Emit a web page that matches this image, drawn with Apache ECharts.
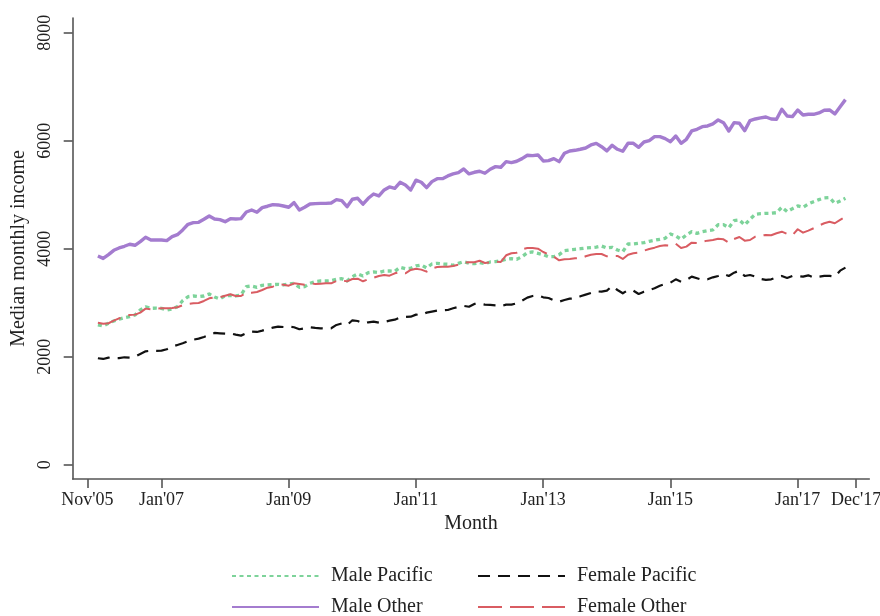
<!DOCTYPE html>
<html>
<head>
<meta charset="utf-8">
<script src="https://cdn.jsdelivr.net/npm/echarts@6/dist/echarts.min.js"></script>
<style>
  html, body { margin: 0; padding: 0; background: #fff; }
  #chart { width: 880px; height: 616px; }
</style>
</head>
<body>
<div id="chart"></div>
<script>
// months counted from Jan 2006 (index 0) to Oct 2017 (index 141)
const tickMonths = [-2, 12, 36, 60, 84, 108, 132, 143];
const tickLabels = ["Nov'05", "Jan'07", "Jan'09", "Jan'11", "Jan'13", "Jan'15", "Jan'17", "Dec'17"];
const yTicks = [0, 2000, 4000, 6000, 8000];

const malePacific = [
  2587, 2568, 2619, 2661, 2693, 2723, 2741, 2772, 2865, 2921, 2896, 2900, 2896, 2865, 2884, 2926, 3037, 3111, 3124, 3111, 3124, 3161, 3105,
  3069, 3130, 3136, 3124, 3143, 3297, 3309, 3285, 3322, 3328, 3334, 3340, 3328, 3347, 3359, 3285, 3297, 3359, 3389, 3402, 3402, 3408, 3433, 3445,
  3402, 3482, 3532, 3495, 3556, 3569, 3556, 3587, 3587, 3581, 3656, 3630, 3637, 3680, 3698, 3643, 3717, 3729, 3717, 3711, 3692, 3729, 3760, 3730,
  3722, 3741, 3722, 3754, 3760, 3778, 3803, 3815, 3803, 3852, 3926, 3939, 3915, 3889, 3852, 3852, 3889, 3963, 3976, 3989, 4000, 4013, 4019, 4030,
  4050, 4013, 4026, 3976, 3945, 4087, 4087, 4100, 4112, 4137, 4156, 4174, 4193, 4273, 4236, 4174, 4254, 4315, 4285, 4315, 4334, 4347, 4445,
  4445, 4389, 4519, 4532, 4439, 4545, 4637, 4649, 4655, 4655, 4667, 4767, 4686, 4741, 4791, 4767, 4828, 4871, 4908, 4939, 4945, 4841, 4884, 4934
];
const femalePacific = [
  1971, 1958, 1982, 1975, 1975, 1989, 1982, 2001, 2050, 2100, 2112, 2106, 2112, 2137, 2186, 2217, 2248, 2285, 2316, 2334, 2365, 2402, 2440,
  2433, 2427, 2433, 2408, 2390, 2433, 2464, 2458, 2483, 2513, 2538, 2557, 2550, 2557, 2545, 2508, 2526, 2545, 2532, 2526, 2520, 2526, 2588, 2615,
  2587, 2674, 2661, 2619, 2637, 2649, 2630, 2643, 2667, 2686, 2729, 2735, 2741, 2779, 2772, 2816, 2834, 2853, 2859, 2865, 2896, 2921, 2940, 2925,
  2977, 2983, 2964, 2958, 2952, 2933, 2964, 2964, 2989, 3037, 3093, 3124, 3137, 3100, 3087, 3044, 3019, 3050, 3074, 3080, 3118, 3149, 3180, 3210,
  3204, 3223, 3309, 3235, 3174, 3235, 3223, 3161, 3204, 3235, 3267, 3315, 3347, 3371, 3433, 3389, 3421, 3482, 3452, 3421, 3433, 3470, 3495,
  3532, 3495, 3556, 3593, 3495, 3513, 3482, 3439, 3421, 3433, 3470, 3495, 3458, 3495, 3495, 3482, 3507, 3464, 3482, 3495, 3495, 3482, 3593, 3649
];
const maleOther = [
  3865, 3820, 3890, 3970, 4013, 4045, 4082, 4063, 4130, 4211, 4161, 4161, 4161, 4149, 4223, 4260, 4347, 4452, 4482, 4488, 4545, 4606, 4550,
  4538, 4500, 4556, 4550, 4556, 4680, 4717, 4674, 4760, 4786, 4816, 4810, 4791, 4767, 4853, 4717, 4767, 4828, 4834, 4840, 4840, 4847, 4908, 4890,
  4778, 4915, 4934, 4823, 4934, 5013, 4977, 5087, 5143, 5118, 5230, 5180, 5087, 5269, 5230, 5131, 5242, 5297, 5297, 5347, 5384, 5408, 5476, 5385,
  5415, 5434, 5397, 5471, 5520, 5508, 5612, 5594, 5619, 5668, 5730, 5724, 5736, 5625, 5631, 5668, 5612, 5767, 5810, 5822, 5841, 5865, 5921, 5950,
  5889, 5810, 5915, 5841, 5804, 5952, 5952, 5878, 5976, 6000, 6075, 6075, 6038, 5982, 6087, 5952, 6026, 6180, 6211, 6260, 6273, 6310, 6384,
  6334, 6180, 6334, 6322, 6186, 6371, 6402, 6421, 6439, 6402, 6396, 6582, 6458, 6445, 6569, 6476, 6489, 6489, 6514, 6563, 6569, 6495, 6630, 6760
];
const femaleOther = [
  2630, 2611, 2619, 2667, 2711, 2741, 2772, 2779, 2816, 2890, 2878, 2890, 2896, 2896, 2900, 2915, 2952, 2977, 2989, 2995, 3032, 3081, 3100,
  3100, 3130, 3155, 3124, 3124, 3186, 3186, 3199, 3235, 3278, 3297, 3340, 3334, 3315, 3359, 3347, 3334, 3359, 3347, 3353, 3359, 3359, 3402, 3410,
  3396, 3439, 3445, 3396, 3433, 3463, 3495, 3513, 3500, 3544, 3569, 3544, 3606, 3630, 3612, 3575, 3637, 3661, 3667, 3667, 3680, 3704, 3741, 3748,
  3748, 3778, 3735, 3748, 3760, 3754, 3878, 3915, 3926, 3989, 4013, 4013, 4000, 3939, 3896, 3852, 3785, 3803, 3810, 3822, 3822, 3859, 3889, 3902,
  3902, 3859, 3865, 3865, 3810, 3889, 3915, 3926, 3963, 3995, 4019, 4050, 4063, 4056, 4093, 4013, 4038, 4112, 4106, 4130, 4149, 4161, 4185,
  4174, 4112, 4180, 4217, 4149, 4161, 4223, 4242, 4254, 4248, 4285, 4315, 4273, 4248, 4360, 4297, 4334, 4378, 4427, 4471, 4500, 4471, 4532, 4593
];

const serif = "'Liberation Serif', 'DejaVu Serif', serif";
const axisColor = '#555';

function toPoints(arr) {
  return arr.map((v, i) => [i, v]);
}

function lineSeries(name, data, color, width, dash) {
  return {
    name: name,
    type: 'line',
    data: toPoints(data),
    symbol: 'none',
    smooth: false,
    lineStyle: { color: color, width: width, type: dash, cap: 'butt', join: 'round' },
    itemStyle: { color: color }
  };
}

// one legend per entry so the 2x2 layout lines up like the original
function legendAt(name, left, top) {
  return {
    left: left, top: top,
    itemWidth: 87, itemHeight: 14,
    data: [name],
    itemStyle: { opacity: 0 },
    textStyle: { fontFamily: serif, fontSize: 20, color: '#222', padding: [0, 0, 0, 7] }
  };
}

const chart = echarts.init(document.getElementById('chart'), null, { renderer: 'canvas' });
chart.setOption({
  backgroundColor: '#fff',
  animation: false,
  grid: { left: 72.7, right: 10.7, top: 18, bottom: 137, outerBoundsMode: 'none' },
  legend: [
    legendAt('Male Pacific', 226, 561),
    legendAt('Female Pacific', 472, 561),
    legendAt('Male Other', 226, 592),
    legendAt('Female Other', 472, 592)
  ],
  xAxis: {
    type: 'value',
    min: -4.75,
    max: 145.5,
    name: 'Month',
    nameLocation: 'middle',
    nameGap: 31,
    nameTextStyle: { fontFamily: serif, fontSize: 20, color: '#222' },
    axisLine: { show: true, onZero: false, lineStyle: { color: axisColor, width: 1.6 } },
    axisTick: { show: true, length: 9, lineStyle: { color: axisColor, width: 1.6 }, customValues: tickMonths },
    axisLabel: {
      fontFamily: serif, fontSize: 18, color: '#222', margin: 12,
      customValues: tickMonths,
      formatter: function (v) {
        const i = tickMonths.indexOf(Math.round(v));
        return i >= 0 ? tickLabels[i] : '';
      }
    },
    splitLine: { show: false }
  },
  yAxis: {
    type: 'value',
    min: -265,
    max: 8272,
    name: 'Median monthly income',
    nameLocation: 'middle',
    nameGap: 36,
    nameRotate: 90,
    nameTextStyle: { fontFamily: serif, fontSize: 20, color: '#222' },
    axisLine: { show: true, onZero: false, lineStyle: { color: axisColor, width: 1.6 } },
    axisTick: { show: true, length: 9, lineStyle: { color: axisColor, width: 1.6 }, customValues: yTicks },
    axisLabel: {
      fontFamily: serif, fontSize: 18, color: '#222', margin: 18, rotate: 90,
      customValues: yTicks,
      formatter: function (v) { return String(Math.round(v)); }
    },
    splitLine: { show: false }
  },
  series: [
    lineSeries('Male Pacific', malePacific, '#7dd39a', 3.3, [4, 3.5]),
    lineSeries('Female Pacific', femalePacific, '#111111', 2.2, [12, 8]),
    lineSeries('Male Other', maleOther, '#a47ccf', 3.4, 'solid'),
    lineSeries('Female Other', femaleOther, '#d95c62', 2, [24, 8])
  ]
});
</script>
</body>
</html>
